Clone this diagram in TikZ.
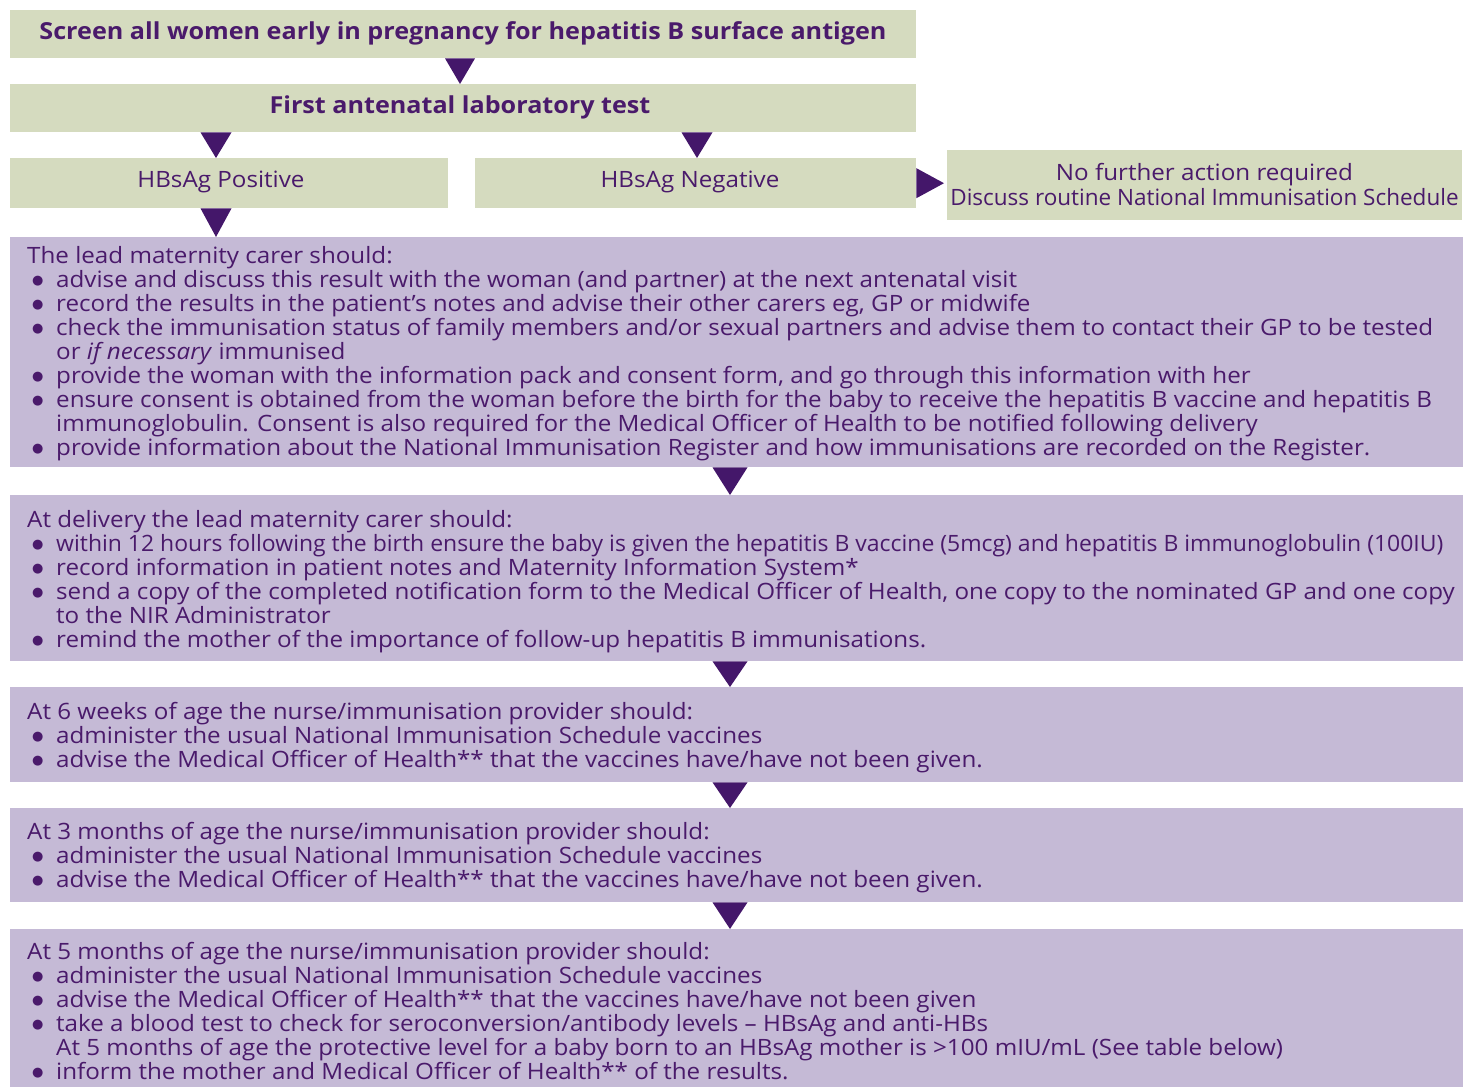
\documentclass[tikz,border=0pt]{standalone}
\usepackage{fontspec}
\usepackage{graphicx}
\setmainfont{Open Sans}[FakeStretch=1.075]
\newfontfamily\plainfont{Open Sans}
\newfontfamily\dotfont{DejaVu Sans}
\usetikzlibrary{calc}
\definecolor{gfill}{HTML}{D5DBBF}
\definecolor{pfill}{HTML}{C5BAD6}
\definecolor{ink}{HTML}{4A1A6B}
\definecolor{arrc}{HTML}{44176A}
\newcommand\bl{\makebox[29pt][l]{\hspace{5pt}\raisebox{2.5pt}{\dotfont\fontsize{13}{13}\selectfont ●}}}
\newcommand\ind{\hspace*{29pt}}
\begin{document}
\begin{tikzpicture}[x=1pt,y=-1pt,
  gbox/.style={fill=gfill, draw=none, inner sep=0pt, anchor=north west},
  pbox/.style={fill=pfill, draw=none, inner sep=0pt, anchor=north west},
  body/.style={anchor=north west, inner sep=0pt, align=left, text=ink, font=\fontsize{22.5}{24}\selectfont},
  head/.style={inner sep=0pt, text=ink, font=\fontsize{23.4}{24}\selectfont\bfseries},
  lab/.style={inner sep=0pt, text=ink, align=center, font=\fontsize{22.5}{25}\selectfont},
  arr/.style={fill=arrc}]
\useasboundingbox (0,0) rectangle (1470,1089);
% boxes
\node[gbox, minimum width=906pt, minimum height=48pt] (A) at (10,10) {};
\node[gbox, minimum width=906pt, minimum height=48pt] (B) at (10,84) {};
\node[gbox, minimum width=438pt, minimum height=50pt] (C) at (10,158) {};
\node[gbox, minimum width=441pt, minimum height=50pt] (D) at (475,158) {};
\node[gbox, minimum width=515pt, minimum height=70pt] (E) at (947,150) {};
\node[pbox, minimum width=1453pt, minimum height=230pt] (F) at (10,237) {};
\node[pbox, minimum width=1453pt, minimum height=166pt] (G) at (10,495) {};
\node[pbox, minimum width=1453pt, minimum height=95pt] (H) at (10,687) {};
\node[pbox, minimum width=1453pt, minimum height=94pt] (I) at (10,808) {};
\node[pbox, minimum width=1453pt, minimum height=158pt] (J) at (10,929) {};
% labels
\node[head] (At) at (463,33) {Screen all women early in pregnancy for hepatitis B surface antigen};
\node[head] (Bt) at (460,107) {First antenatal laboratory test};
\node[lab] (Ct) at (221,182) {HBsAg Positive};
\node[lab] (Dt) at (690,182) {HBsAg Negative};
\node[lab] (Et) at (1204.5,185) {No further action required\\{\plainfont Discuss routine National Immunisation Schedule}};
\node[body] (Ft) at (27,245) {\rule{0pt}{18pt}The lead maternity carer should:\\
\bl advise and discuss this result with the woman (and partner) at the next antenatal visit\\
\bl record the results in the patient’s notes and advise their other carers eg, GP or midwife\\
\bl check the immunisation status of family members and/or sexual partners and advise them to contact their GP to be tested\\
\ind or \textit{if necessary} immunised\\
\bl provide the woman with the information pack and consent form, and go through this information with her\\
\bl ensure consent is obtained from the woman before the birth for the baby to receive the hepatitis B vaccine and hepatitis B\\
\ind immunoglobulin. Consent is also required for the Medical Officer of Health to be notified following delivery\\
\bl provide information about the National Immunisation Register and how immunisations are recorded on the Register.};
\node[body] (Gt) at (27,509) {\rule{0pt}{18pt}At delivery the lead maternity carer should:\\
\bl \scalebox{0.95}[1]{within 12 hours following the birth ensure the baby is given the hepatitis B vaccine (5mcg) and hepatitis B immunoglobulin (100IU)}\\
\bl record information in patient notes and Maternity Information System*\\
\bl send a copy of the completed notification form to the Medical Officer of Health, one copy to the nominated GP and one copy\\
\ind to the NIR Administrator\\
\bl remind the mother of the importance of follow-up hepatitis B immunisations.};
\node[body] (Ht) at (27,701) {\rule{0pt}{18pt}At 6 weeks of age the nurse/immunisation provider should:\\
\bl administer the usual National Immunisation Schedule vaccines\\
\bl advise the Medical Officer of Health** that the vaccines have/have not been given.};
\node[body] (It) at (27,821) {\rule{0pt}{18pt}At 3 months of age the nurse/immunisation provider should:\\
\bl administer the usual National Immunisation Schedule vaccines\\
\bl advise the Medical Officer of Health** that the vaccines have/have not been given.};
\node[body] (Jt) at (27,941) {\rule{0pt}{18pt}At 5 months of age the nurse/immunisation provider should:\\
\bl administer the usual National Immunisation Schedule vaccines\\
\bl advise the Medical Officer of Health** that the vaccines have/have not been given\\
\bl take a blood test to check for seroconversion/antibody levels – HBsAg and anti-HBs\\
\ind At 5 months of age the protective level for a baby born to an HBsAg mother is >100 mIU/mL (See table below)\\
\bl inform the mother and Medical Officer of Health** of the results.};
% arrow x positions
\coordinate (x1) at (460,0);
\coordinate (x2) at (216,0);
\coordinate (x3) at (697,0);
\coordinate (x4) at (730,0);
% triangles
\fill[arr] ([xshift=-15pt]A.south -| x1) -- ([xshift=15pt]A.south -| x1) -- (B.north -| x1) -- cycle;
\fill[arr] ([xshift=-15.5pt]B.south -| x2) -- ([xshift=15.5pt]B.south -| x2) -- (C.north -| x2) -- cycle;
\fill[arr] ([xshift=-15.5pt]B.south -| x3) -- ([xshift=15.5pt]B.south -| x3) -- (D.north -| x3) -- cycle;
\fill[arr] ([xshift=-15.5pt]C.south -| x2) -- ([xshift=15.5pt]C.south -| x2) -- (F.north -| x2) -- cycle;
\fill[arr] ([xshift=-17.5pt]F.south -| x4) -- ([xshift=17.5pt]F.south -| x4) -- (G.north -| x4) -- cycle;
\fill[arr] ([xshift=-17.5pt]G.south -| x4) -- ([xshift=17.5pt]G.south -| x4) -- (H.north -| x4) -- cycle;
\fill[arr] ([xshift=-17.5pt]H.south -| x4) -- ([xshift=17.5pt]H.south -| x4) -- (I.north -| x4) -- cycle;
\fill[arr] ([xshift=-17.5pt]I.south -| x4) -- ([xshift=17.5pt]I.south -| x4) -- (J.north -| x4) -- cycle;
\fill[arr] ([yshift=-15pt]D.east) -- ([yshift=15pt]D.east) -- ([xshift=-3pt]D.east -| E.west) -- cycle;
\end{tikzpicture}
\end{document}
